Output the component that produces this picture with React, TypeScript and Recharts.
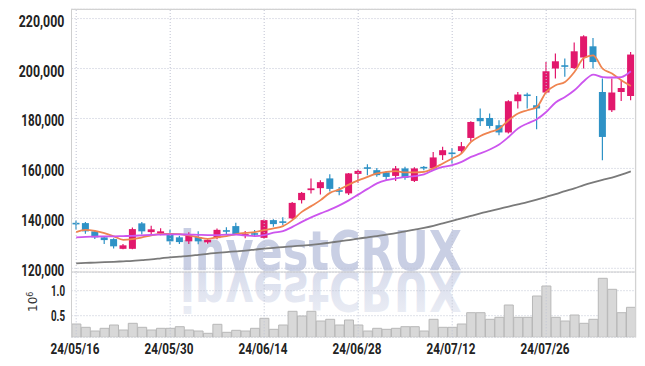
import React from 'react';
import { ComposedChart, Bar, Line, XAxis, YAxis, CartesianGrid, ReferenceLine } from 'recharts';

const dates = [
  '24/05/16','24/05/17','24/05/20','24/05/21','24/05/22','24/05/23','24/05/24','24/05/27','24/05/28','24/05/29',
  '24/05/30','24/05/31','24/06/03','24/06/04','24/06/05','24/06/07','24/06/10','24/06/11','24/06/12','24/06/13',
  '24/06/14','24/06/17','24/06/18','24/06/19','24/06/20','24/06/21','24/06/24','24/06/25','24/06/26','24/06/27',
  '24/06/28','24/07/01','24/07/02','24/07/03','24/07/04','24/07/05','24/07/08','24/07/09','24/07/10','24/07/11',
  '24/07/12','24/07/15','24/07/16','24/07/17','24/07/18','24/07/19','24/07/22','24/07/23','24/07/24','24/07/25',
  '24/07/26','24/07/29','24/07/30','24/07/31','24/08/01','24/08/02','24/08/05','24/08/06','24/08/07','24/08/08',
];

const opens = [
  138000,138100,134800,132400,131700,127800,127800,138000,134500,134000,
  134100,132400,130800,132500,130400,132100,135100,136900,132900,133900,
  132200,139300,138800,140000,147300,151300,152100,156000,151100,150000,
  157800,160300,159300,158400,157000,160000,155000,160600,160000,165300,
  166200,167000,172200,180200,180200,177300,174400,186900,189600,185300,
  190400,200000,201200,200200,204400,208900,190600,183300,190600,189000,
];
const highs = [
  139100,138500,135200,132900,132000,129700,136300,138500,137000,136000,
  135400,133000,134400,134800,131600,135900,136400,138200,134900,135300,
  139500,139600,140400,146600,150600,156000,155300,157700,152600,158200,
  159600,161700,160200,159000,161000,160700,160500,161000,166600,168700,
  168200,170600,178900,184000,182000,179300,187300,190600,190300,189000,
  202600,206000,204000,210400,213300,212200,196000,196000,195300,206600,
];
const lows = [
  135500,133800,131700,129700,127900,127600,127600,133500,133400,133200,
  129400,129700,129700,129600,129800,131600,133700,133500,132000,132900,
  131900,136600,137300,139600,146000,150000,149600,150800,149300,149400,
  154300,157300,156700,155000,155000,155500,154600,159300,159600,163400,
  162000,166200,170800,177000,176000,173300,174000,184000,184000,175700,
  190000,196000,196700,199800,200000,200000,163300,182600,187000,187300,
];
const closes = [
  137800,134800,132400,131300,128800,129200,135700,134800,135600,134800,
  130800,130500,133200,130800,131400,135400,134800,133700,133700,133600,
  139300,137700,138200,146200,150200,152000,154500,151800,150800,158000,
  159000,160000,157300,156600,160000,156200,160000,160000,164400,167300,
  165900,168900,178600,178900,177000,174400,186900,189600,189000,184000,
  198900,202900,200800,206900,212900,202600,172600,190400,192200,205600,
];
const ma5 = [
  134500,135400,135000,134100,132800,131400,131700,132400,133200,133800,
  133800,133700,133200,132400,131800,132400,132900,133700,134200,134500,
  135300,136000,136900,139300,142600,144900,147300,150200,151600,153500,
  155200,156600,158000,158600,158900,158400,158400,158600,160000,162000,
  164000,166000,170600,173000,174500,175900,179300,182000,183300,184600,
  190600,193300,194600,198600,204200,205300,200000,198000,195300,193000,
];
const ma10 = [
  132400,132600,132700,132800,132800,132900,133000,133200,133400,133500,
  133600,133600,133500,133400,133300,133300,133500,133500,133200,132900,
  133300,134300,134900,136600,138600,140400,142000,143500,145200,147200,
  149500,151800,154000,155300,156000,156600,156900,157600,159300,160600,
  161300,162600,164600,166000,167600,169600,172600,176000,178000,179700,
  182600,186400,188600,191300,194900,197600,196600,196400,196600,198900,
];
const maLong = [
  122000,122150,122300,122450,122600,122800,123000,123300,123600,124000,
  124400,124700,125000,125400,125800,126200,126500,126800,127100,127500,
  127900,128200,128500,128800,129100,129400,129800,130300,130800,131300,
  131900,132400,132900,133500,134100,134800,135500,136200,137000,138000,
  139000,140000,141000,142000,142900,143800,144700,145600,146500,147500,
  148600,149700,150900,152000,153300,154400,155400,156300,157500,158800,
];
// volume, in millions of shares (axis unit 10^6)
const volumes = [
  0.334,0.268,0.194,0.248,0.314,0.214,0.348,0.268,0.214,0.248,
  0.248,0.280,0.214,0.194,0.148,0.328,0.168,0.208,0.194,0.248,
  0.448,0.228,0.314,0.588,0.494,0.588,0.394,0.428,0.314,0.414,
  0.314,0.194,0.248,0.228,0.248,0.280,0.280,0.194,0.428,0.268,
  0.268,0.334,0.560,0.560,0.428,0.468,0.714,0.468,0.468,0.894,
  1.094,0.468,0.394,0.514,0.348,0.428,1.248,1.028,0.560,0.668,
];

const priceTicks = [120000, 140000, 160000, 180000, 200000, 220000];
const volumeTicks = [0.5, 1.0];
const dateTicks = ['24/05/16', '24/05/30', '24/06/14', '24/06/28', '24/07/12', '24/07/26'];

const rows = dates.map((date, i) => ({
  date,
  open: opens[i],
  high: highs[i],
  low: lows[i],
  close: closes[i],
  range: [lows[i], highs[i]],
  ma5: ma5[i],
  ma10: ma10[i],
  maLong: maLong[i],
  volume: volumes[i],
}));

const UP = '#e2186c';
const DOWN = '#2e92c6';
const GRID = '#bfc3d3';
const TICK_FONT = 'Roboto, "Liberation Sans", sans-serif';

function Candle(props: any) {
  const { x, y, width, height, payload } = props;
  if (!payload || x == null || y == null || height == null) return null;
  const { open, close, high, low } = payload;
  const top = Math.min(y, y + height);
  const h = Math.abs(height);
  const span = high - low || 1;
  const k = h / span;
  const py = (v: number) => top + (high - v) * k;
  const up = close >= open;
  const color = up ? UP : DOWN;
  const cx = x + width / 2;
  let bt = py(Math.max(open, close));
  let bh = Math.abs(open - close) * k;
  if (bh < 1.6) {
    bt = bt - (1.6 - bh) / 2;
    bh = 1.6;
  }
  return (
    <g>
      <line x1={cx} x2={cx} y1={top} y2={top + h} stroke={color} strokeWidth={1.2} />
      <rect x={x} y={bt} width={width} height={bh} fill={color} />
    </g>
  );
}

function PriceTick(props: any) {
  const { x, y, payload } = props;
  const label = Number(payload.value).toLocaleString('en-US');
  const len = label.startsWith('1') ? 43 : 45.5;
  return (
    <text
      x={x - 7.2}
      y={y + 8}
      textAnchor="end"
      fontFamily={TICK_FONT}
      fontWeight={700}
      fontSize={17}
      fill="#222"
      textLength={len}
      lengthAdjust="spacingAndGlyphs"
    >
      {label}
    </text>
  );
}

function VolumeTick(props: any) {
  const { x, y, payload } = props;
  const label = Number(payload.value).toFixed(1);
  return (
    <text
      x={x - 6.5}
      y={y + 5.5}
      textAnchor="end"
      fontFamily={TICK_FONT}
      fontWeight={700}
      fontSize={15}
      fill="#222"
      textLength={14}
      lengthAdjust="spacingAndGlyphs"
    >
      {label}
    </text>
  );
}

function DateTick(props: any) {
  const { x, y, payload } = props;
  return (
    <text
      x={x - 1.2}
      y={y + 16.7}
      textAnchor="middle"
      fontFamily={TICK_FONT}
      fontWeight={700}
      fontSize={14}
      fill="#222"
      textLength={49}
      lengthAdjust="spacingAndGlyphs"
    >
      {payload.value}
    </text>
  );
}

export default function App() {
  return (
    <div style={{ position: 'absolute', left: 0, top: 0, width: 645, height: 366, background: '#fff', overflow: 'hidden' }}>
      <svg width={645} height={366} style={{ position: 'absolute', left: 0, top: 0 }}>
        <defs>
          <linearGradient id="wmReflect" x1="0" y1="0" x2="0" y2="1">
            <stop offset="0" stopColor="#eef0f6" />
            <stop offset="1" stopColor="#d3d8ea" />
          </linearGradient>
        </defs>
        <text
          x={180}
          y={270}
          fontFamily='"DejaVu Sans", sans-serif'
          fontWeight={700}
          fontSize={55}
          fill="#c9cfe4"
          textLength={282}
          lengthAdjust="spacingAndGlyphs"
        >
          investCRUX
        </text>
        <text
          x={180}
          y={270}
          transform="translate(0,542) scale(1,-1)"
          fontFamily='"DejaVu Sans", sans-serif'
          fontWeight={700}
          fontSize={55}
          fill="url(#wmReflect)"
          textLength={282}
          lengthAdjust="spacingAndGlyphs"
        >
          investCRUX
        </text>
      </svg>

      <div style={{ position: 'absolute', left: 0, top: 0 }}>
        <ComposedChart
          width={645}
          height={282}
          data={rows}
          margin={{ top: 9.3, right: 9.5, bottom: 10, left: 0 }}
        >
          <CartesianGrid vertical={false} stroke={GRID} strokeDasharray="1 2" />
          {dateTicks.map((d) => (
            <ReferenceLine key={d} x={d} stroke={GRID} strokeDasharray="1 2" />
          ))}
          <XAxis dataKey="date" hide />
          <YAxis
            domain={[118520, 223720]}
            ticks={priceTicks}
            interval={0}
            allowDataOverflow
            width={71.5}
            axisLine={{ stroke: '#cfcfcf' }}
            tickLine={false}
            tickSize={0}
            tickMargin={0}
            tick={(p: any) => <PriceTick {...p} />}
          />
          <Line dataKey="maLong" type="monotone" stroke="#7a7a7a" strokeWidth={1.8} dot={false} isAnimationActive={false} />
          <Bar dataKey="range" barSize={7} isAnimationActive={false} shape={(p: any) => <Candle {...p} />} />
          <Line dataKey="ma5" type="monotone" stroke="#ef8450" strokeWidth={1.8} dot={false} isAnimationActive={false} />
          <Line dataKey="ma10" type="monotone" stroke="#cc55ee" strokeWidth={1.8} dot={false} isAnimationActive={false} />
        </ComposedChart>
      </div>

      <div style={{ position: 'absolute', left: 0, top: 272 }}>
        <ComposedChart
          width={645}
          height={94}
          data={rows}
          margin={{ top: 0, right: 9.5, bottom: 0, left: 0 }}
          barCategoryGap="4%"
        >
          <CartesianGrid vertical={false} stroke={GRID} strokeDasharray="1 2" />
          {dateTicks.map((d) => (
            <ReferenceLine key={d} x={d} stroke={GRID} strokeDasharray="1 2" />
          ))}
          <XAxis
            dataKey="date"
            ticks={dateTicks}
            interval={0}
            height={28.7}
            axisLine={false}
            tickLine={false}
            tickSize={0}
            tickMargin={0}
            tick={(p: any) => <DateTick {...p} />}
          />
          <YAxis
            domain={[0.068, 1.374]}
            ticks={volumeTicks}
            interval={0}
            allowDataOverflow
            width={71.5}
            axisLine={{ stroke: '#cfcfcf' }}
            tickLine={false}
            tickSize={0}
            tickMargin={0}
            tick={(p: any) => <VolumeTick {...p} />}
          />
          <Bar dataKey="volume" fill="#d8d8d8" stroke="#b8b8b8" strokeWidth={1} isAnimationActive={false} />
        </ComposedChart>
      </div>

      <svg width={645} height={366} style={{ position: 'absolute', left: 0, top: 0, pointerEvents: 'none' }}>
        <line x1={71} x2={636} y1={9.3} y2={9.3} stroke="#d2d2d2" strokeWidth={1.3} />
        <line x1={635.6} x2={635.6} y1={9} y2={337.5} stroke="#d2d2d2" strokeWidth={1.3} />
        <line x1={71} x2={636} y1={272} y2={272} stroke="#cfcfcf" strokeWidth={1.2} />
        <text
          transform="translate(37,312) rotate(-90)"
          fontFamily='"DejaVu Sans", sans-serif'
          fontSize={12}
          fill="#333"
        >
          10
          <tspan dy={-4} fontSize={8}>6</tspan>
        </text>
      </svg>
    </div>
  );
}
